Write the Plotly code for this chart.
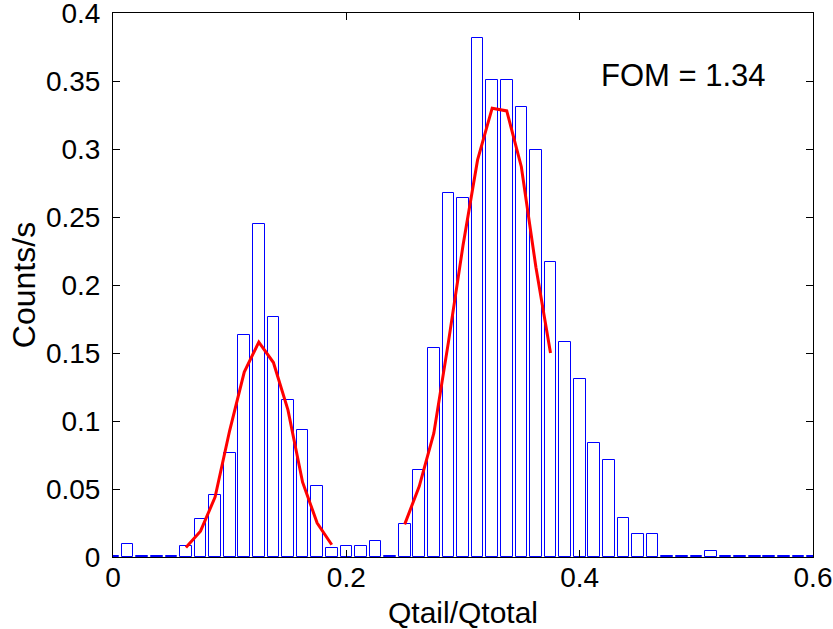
import plotly.graph_objects as go

# Histogram bin centres (Qtail/Qtotal) and counts/s
bin_centers = [round(0.0125 * k, 4) for k in range(49)]
counts = [
    0.0005, 0.0093, 0.0005, 0.0005, 0.0005, 0.0083, 0.0282, 0.0456, 0.0765, 0.163,
    0.2446, 0.1765, 0.1157, 0.0931, 0.0524, 0.0064, 0.0083, 0.0083, 0.0115, 0.0005,
    0.024, 0.0642, 0.1539, 0.268, 0.2642, 0.3814, 0.3507, 0.3507, 0.3311, 0.299,
    0.2167, 0.1579, 0.1311, 0.0838, 0.0716, 0.0284, 0.0169, 0.0169, 0.0005, 0.0005,
    0.0005, 0.0044, 0.0005, 0.0005, 0.0005, 0.0005, 0.0005, 0.0005, 0.0005,
]

# Gaussian fit curves
fit1_x = [0.0625, 0.075, 0.0875, 0.1, 0.1125, 0.125, 0.1375, 0.15, 0.1625, 0.175, 0.1875]
fit1_y = [0.007, 0.019, 0.044, 0.093, 0.136, 0.158, 0.143, 0.108, 0.055, 0.025, 0.009]
fit2_x = [0.25, 0.2625, 0.275, 0.2875, 0.3, 0.3125, 0.325, 0.3375, 0.35, 0.3625, 0.375]
fit2_y = [0.024, 0.052, 0.091, 0.158, 0.229, 0.292, 0.330, 0.328, 0.287, 0.213, 0.150]

x_ticks = [0, 0.2, 0.4, 0.6]
x_ticklabels = ["0", "0.2", "0.4", "0.6"]
y_ticks = [0, 0.05, 0.1, 0.15, 0.2, 0.25, 0.3, 0.35, 0.4]
y_ticklabels = ["0", "0.05", "0.1", "0.15", "0.2", "0.25", "0.3", "0.35", "0.4"]

annotation_text = "FOM = 1.34"

FONT = "Arial, Liberation Sans, Helvetica, sans-serif"

fig = go.Figure()
fig.add_trace(go.Bar(
    x=bin_centers, y=counts, width=0.01,
    marker=dict(color="white", line=dict(color="#0000ff", width=1)),
    showlegend=False,
))
fig.add_trace(go.Scatter(
    x=fit1_x, y=fit1_y, mode="lines",
    line=dict(color="#ff0000", width=3), showlegend=False,
))
fig.add_trace(go.Scatter(
    x=fit2_x, y=fit2_y, mode="lines",
    line=dict(color="#ff0000", width=3), showlegend=False,
))

fig.add_annotation(
    x=0.4165, y=0.354, xref="x", yref="y", text=annotation_text,
    showarrow=False, xanchor="left", yanchor="middle",
    font=dict(family=FONT, size=31, color="black"),
)

axis_common = dict(
    showline=True, mirror="ticks", linecolor="black", linewidth=1,
    ticks="inside", ticklen=7, tickcolor="black", tickwidth=1,
    showgrid=False, zeroline=False, automargin=False,
    ticklabeloverflow="allow",
    tickfont=dict(family=FONT, size=28, color="black"),
)

fig.update_xaxes(
    range=[0, 0.6], tickvals=x_ticks, ticktext=x_ticklabels,
    title=dict(text="Qtail/Qtotal", font=dict(family=FONT, size=30, color="black"), standoff=11),
    **axis_common,
)
try:
    fig.update_xaxes(ticklabelstandoff=-5)
except ValueError:
    fig.update_xaxes(ticklabelstandoff=0)

fig.update_yaxes(
    range=[0, 0.4], tickvals=y_ticks, ticktext=y_ticklabels,
    title=dict(text="Counts/s", font=dict(family=FONT, size=32, color="black"), standoff=0),
    ticklabelstandoff=6,
    **axis_common,
)

fig.update_layout(
    width=833, height=629,
    margin=dict(l=113, r=20, t=13, b=72, autoexpand=False),
    plot_bgcolor="white", paper_bgcolor="white",
    bargap=0, barmode="overlay",
)

fig.write_html(
    "out.html",
    config={"displayModeBar": False},
    post_script="document.body.style.margin='0';",
)
